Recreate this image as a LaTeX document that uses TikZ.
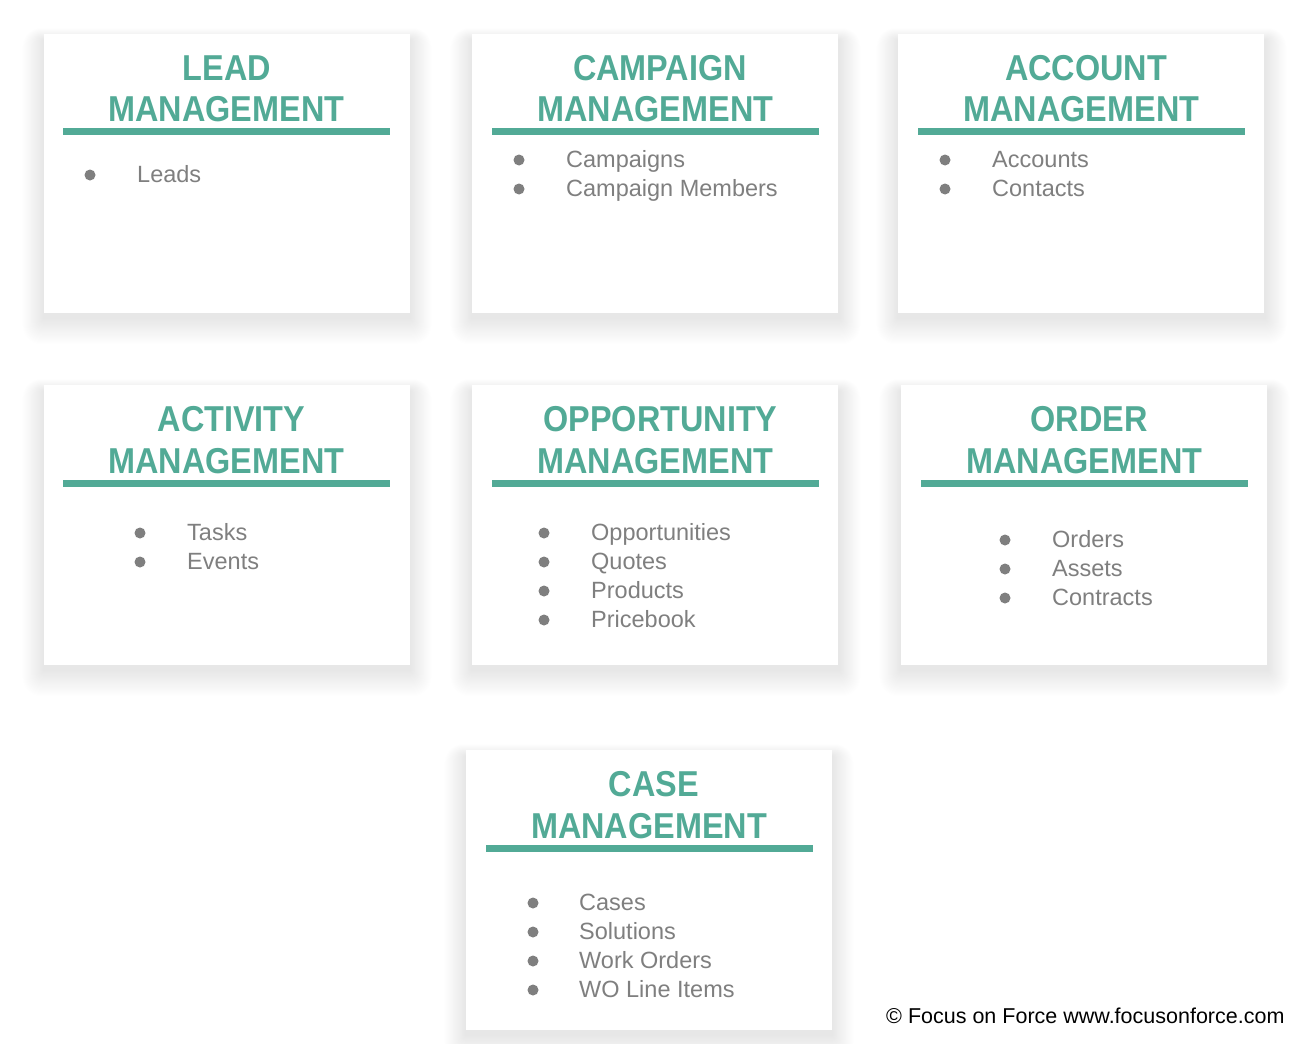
\documentclass[tikz,border=0pt]{standalone}
\usepackage{fontspec}
\setmainfont{Liberation Sans}
\newfontfamily\headfont[FakeStretch=0.9]{Liberation Sans}
\definecolor{headteal}{HTML}{52AA96}
\definecolor{itemgray}{HTML}{7F7F7F}

\tikzset{
  card/.style={fill=white, draw=none, anchor=north west, inner sep=0pt,
               minimum width=366pt, minimum height=279pt},
  head/.style={anchor=base, inner sep=0pt, text=headteal,
               font=\headfont\bfseries\fontsize{36}{40}\selectfont},
  bar/.style={fill=headteal, draw=none, anchor=north west, inner sep=0pt,
              minimum width=327pt, minimum height=7pt},
  item/.style={anchor=base west, inner sep=0pt, text=itemgray,
               font=\fontsize{23.5}{28}\selectfont},
  dot/.style={fill=itemgray},
  credit/.style={anchor=base west, inner sep=0pt, text=black,
                 font=\fontsize{21.5}{24}\selectfont}
}

% soft drop shadow under a card: x1, y1, x2, y2
\newcommand\cardshadow[4]{%
  \foreach \k in {1,...,24}{%
    \fill[black, opacity=0.0035, rounded corners=\k*0.8pt]
      (#1-\k*0.9, #2-\k*0.5+6) rectangle (#3+\k*0.9, #4+\k*1.1+5);
  }%
}

\begin{document}
\begin{tikzpicture}[x=1pt, y=-1pt]
\useasboundingbox[fill=white] (0,0) rectangle (1312,1044);

% shadows
\cardshadow{44}{34}{410}{313}
\cardshadow{472}{34}{839}{313}
\cardshadow{898}{34}{1265}{313}
\cardshadow{44}{385}{410}{665}
\cardshadow{472}{385}{839}{665}
\cardshadow{901}{385}{1268}{665}
\cardshadow{466}{750}{832}{1030}

% cards
\node[card] (lead)  at (44,34)  {};
\node[card] (camp)  at (472,34) {};
\node[card] (acct)  at (898,34) {};
\node[card, minimum height=280pt] (act)   at (44,385)  {};
\node[card, minimum height=280pt] (opp)   at (472,385) {};
\node[card, minimum height=280pt] (ord)   at (901,385) {};
\node[card, minimum height=280pt] (case)  at (466,750) {};

% headings
\node[head] (leadA) at (227,80)    {LEAD};
\node[head] (leadB) at (226.5,121) {MANAGEMENT};
\node[head] (campA) at (660,80)    {CAMPAIGN};
\node[head] (campB) at (655.5,121) {MANAGEMENT};
\node[head] (acctA) at (1086,80)   {ACCOUNT};
\node[head] (acctB) at (1081.5,121){MANAGEMENT};
\node[head] (actA)  at (231.5,431) {ACTIVITY};
\node[head] (actB)  at (226.5,473) {MANAGEMENT};
\node[head] (oppA)  at (660.5,431) {OPPORTUNITY};
\node[head] (oppB)  at (655.5,473) {MANAGEMENT};
\node[head] (ordA)  at (1089,431)  {ORDER};
\node[head] (ordB)  at (1084.5,473){MANAGEMENT};
\node[head] (caseA) at (654,796)   {CASE};
\node[head] (caseB) at (649,838)   {MANAGEMENT};

% underline bars
\node[bar] (leadBar) at (63,128)  {};
\node[bar] (campBar) at (492,128) {};
\node[bar] (acctBar) at (918,128) {};
\node[bar] (actBar)  at (63,480)  {};
\node[bar] (oppBar)  at (492,480) {};
\node[bar] (ordBar)  at (921,480) {};
\node[bar] (caseBar) at (486,845) {};

% bullet lists: bullet x, text x, first bullet y, list
\newcommand\bulletlist[4]{%
  \foreach \t [count=\i from 0] in {#4}{%
    \fill[dot] (#1, #3+\i*29) circle[radius=5.5pt];
    \node[item] (item-#2-\i) at (#2, #3+\i*29+7) {\t};
  }%
}
\bulletlist{90}{137}{175}{Leads}
\bulletlist{519}{566}{160}{Campaigns, Campaign Members}
\bulletlist{945}{992}{160}{Accounts, Contacts}
\bulletlist{140}{187}{533}{Tasks, Events}
\bulletlist{544}{591}{533}{Opportunities, Quotes, Products, Pricebook}
\bulletlist{1005}{1052}{540}{Orders, Assets, Contracts}
\bulletlist{533}{579}{903}{Cases, Solutions, Work Orders, WO Line Items}

% credit line
\node[credit] (credit) at (886,1023) {© Focus on Force www.focusonforce.com};
\end{tikzpicture}
\end{document}
